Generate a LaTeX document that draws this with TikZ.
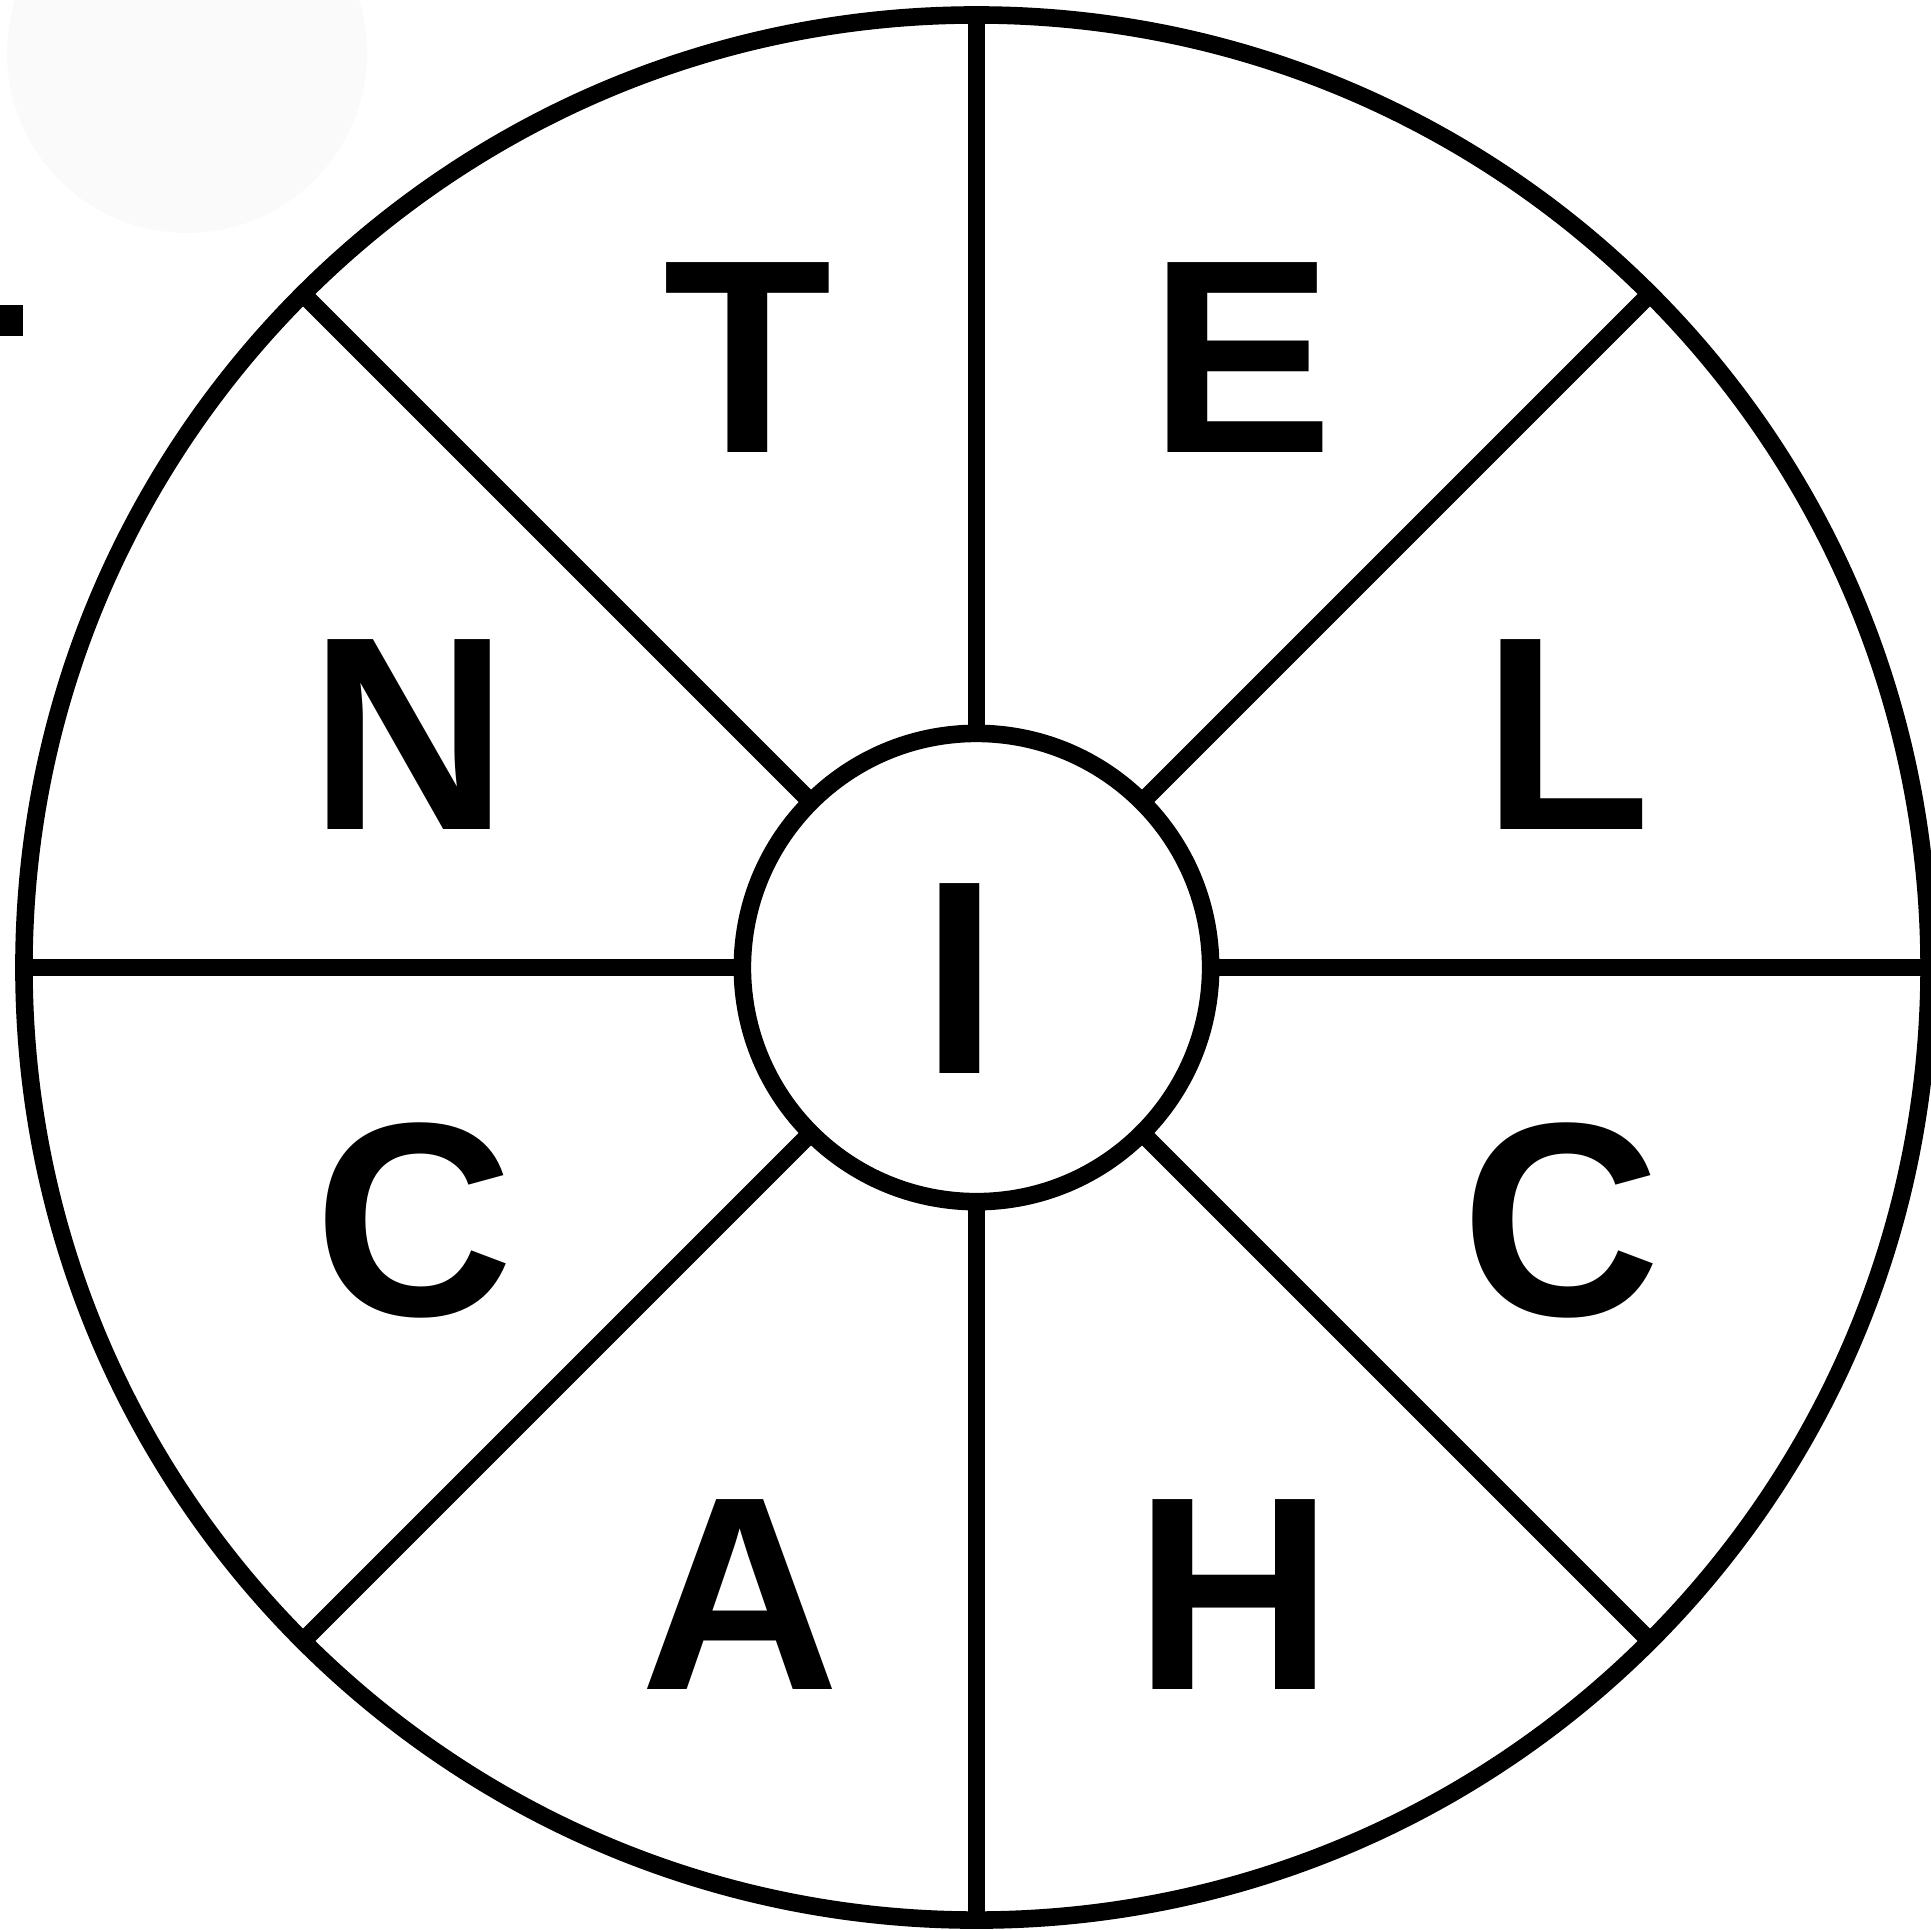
\documentclass[tikz,border=0pt]{standalone}
\usepackage{fontspec}
\setmainfont{Liberation Sans}
\usetikzlibrary{positioning}
\definecolor{ghost}{RGB}{250,250,250}

\begin{document}
\begin{tikzpicture}[
  x=0.01cm,y=-0.01cm,line width=5pt,
  ring/.style={draw,circle,outer sep=0pt,inner sep=0pt},
  letter/.style={anchor=base,inner sep=0pt,
    font=\bfseries\fontsize{78.5}{78.5}\selectfont}]
\useasboundingbox (0,0) rectangle (1931,1929);
\fill[ghost] (187,53) circle (180);
\fill (0,305) rectangle (23,336);
\node[ring,minimum size=19.04cm] (rim) at (976.5,967.5) {};
\node[ring,minimum size=4.68cm] (hub) at (rim.center) {};
\foreach \a in {0,45,...,315}
  \draw (hub.\a) -- (rim.\a);
\node[letter] (t) at (747.5,452) {T};
\node[letter] (e) at (1242,452) {E};
\node[letter] (n) at (409.5,829) {N};
\node[letter] (l) at (1566.5,829) {L};
\node[letter] (i) at (960,1073) {I};
\node[letter] (cw) at (414,1315) {C};
\node[letter] (ce) at (1561.5,1315) {C};
\node[letter] (a) at (740.5,1689) {A};
\node[letter] (h) at (1234.5,1689) {H};
\end{tikzpicture}
\end{document}
